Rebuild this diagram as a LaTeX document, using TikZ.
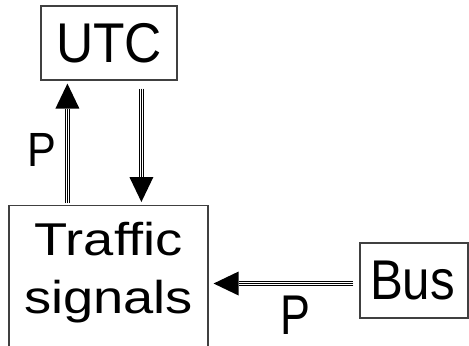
\documentclass[tikz,border=0pt]{standalone}
\usepackage{fontspec}
\setmainfont{Liberation Sans}
\usetikzlibrary{arrows.meta,calc}

\tikzset{
  box/.style={draw=black!75, line width=0.6pt, inner sep=0pt},
  pipe/.style={line width=2.8pt, -{Triangle[length=12.5pt,width=12pt,line width=0pt]},
    postaction={draw=white, line width=1.6pt, -, shorten >=12.5pt},
    postaction={draw=black, line width=0.6pt, -, shorten >=12.5pt}},
  lbl/.style={inner sep=0pt}
}

\begin{document}
\begin{tikzpicture}[x=0.5pt,y=0.5pt]
	\clip (0,0) rectangle (469,345);
	% boxes
	\node[box, minimum width=68pt, minimum height=37pt] (utc) at (109,302) {};
	\node[box, minimum width=99.5pt, minimum height=110pt, anchor=north] (traffic) at (108.5,140) {};
	\node[box, minimum width=54pt, minimum height=37.5pt] (bus) at (414,64.5) {};
	% texts
	\node[lbl, font=\fontsize{28pt}{29pt}\selectfont] (utctext) at (utc.center) {\scalebox{0.92}[1]{UTC}};
	\node[lbl, font=\fontsize{23pt}{29pt}\selectfont, align=center, anchor=base] (traffictext) at (108.5,32)
		{\scalebox{1.18}[1]{Traffic}\\\scalebox{1.18}[1]{signals}};
	\node[lbl, font=\fontsize{28pt}{29pt}\selectfont] (bustext) at ([xshift=-0.75pt]bus.center) {\scalebox{0.88}[1]{Bus}};
	% connectors
	\coordinate (up) at ($(utc.south west)+(27,0)$);
	\coordinate (dn) at ($(utc.south west)+(101,0)$);
	\coordinate (hz) at ([yshift=-1.5pt]bus.west);
	\draw[pipe] ([yshift=1pt]up |- traffic.north) -- ([yshift=-1.5pt]up);
	\draw[pipe] ([yshift=-4pt]dn) -- ([yshift=1.5pt]dn |- traffic.north);
	\draw[pipe] ([xshift=-3pt]hz) -- ([xshift=2.5pt]hz -| traffic.east);
	% labels
	\node[lbl, font=\fontsize{24pt}{24pt}\selectfont] (pup) at (42,195) {\scalebox{0.9}[1]{P}};
	\node[lbl, font=\fontsize{28pt}{29pt}\selectfont] (pbus) at (295,30) {\scalebox{0.8}[1]{P}};
\end{tikzpicture}
\end{document}
